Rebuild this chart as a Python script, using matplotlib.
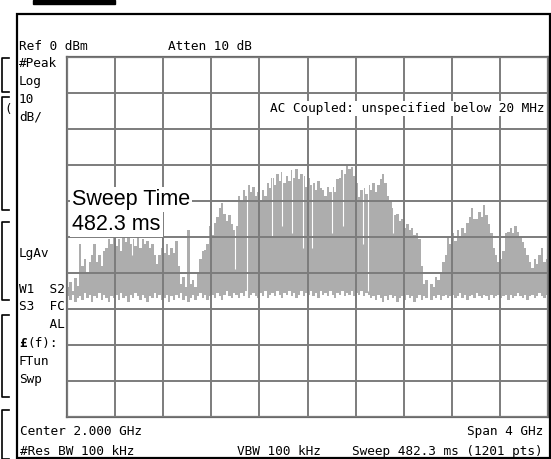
import numpy as np
import matplotlib
matplotlib.use("Agg")
import matplotlib.pyplot as plt
from matplotlib.patches import Rectangle

# sweep settings
center_ghz = 2.0
span_ghz = 4.0

# trace peak level per 20 MHz bin (dBm), 0 .. 4 GHz
peak_dbm = [
    -64, -62.5, -65, -61.5, -63.5,
    -52, -58, -56, -60, -57, -55, -52, -57, -55, -58, -54,
    -53, -50.5, -52, -50, -52.5, -50.5, -54, -50, -51.5, -49.5, -52, -50.5,
    -52.5, -50, -53, -50.5, -52, -51, -53, -52, -55, -57.5,
    -55, -53, -54.5, -52, -55, -53, -54.5, -51, -58,
    -63, -61, -64, -48, -63, -62, -64, -60,
    -56, -54, -53.5, -52,
    -47, -49.5, -46, -44.5, -42, -40.5, -43.5, -45.5, -44, -46.5, -48, -47,
    -38.5, -40, -37, -38.5, -35.5, -37.5, -36, -38.5, -37.5, -40,
    -37, -38.5, -35, -36.5, -33.5, -35.5, -32.5, -34.5, -32, -35, -33, -34.5,
    -31.5, -33.5, -31, -34, -32.5,
    -33, -36, -33.5, -35.5, -35, -37, -34.5, -36.5, -37, -38.5, -36, -37.5,
    -36, -37.5, -34,
    -33.5, -31.5, -32.5, -30, -31, -30.5, -33, -35, -39, -37,
    -36.5, -38, -35.5, -37, -35, -37.5, -35.5, -34, -32.5, -35, -38.5, -40,
    -42, -44, -43.5, -45.5, -45, -47.5, -46.5, -48, -47.5, -49.5, -49, -50.5, -58,
    -63, -62, -66, -63, -64, -61, -62, -60, -57, -55,
    -50, -52, -49, -51, -48, -50, -47.5, -49, -46, -44.5, -42, -45, -45, -43,
    -44.5, -41, -44, -46.5, -49, -53,
    -55, -57, -56, -54,
    -49, -48.5, -47.5, -49, -47, -48.5, -50, -51.5, -53, -55,
    -57, -58.5, -56, -57.5, -55, -53, -57, -56,
]

# noise floor under each bin (dBm)
floor_dbm = [
    -66.5, -67.5, -66, -68, -67, -66.5, -67.5, -65.5, -67, -66, -68, -66.5, -67, -65.5, -67.5, -66, -67, -68, -66.5, -67,
    -66, -67.5, -65.5, -67, -66.5, -68, -66, -67, -65.5, -66.5, -67.5, -66, -67, -68, -66.5, -67, -65.5, -67, -66, -67.5,
    -67, -66, -68, -66.5, -67.5, -66, -67, -65.5, -67.5, -66.5, -68, -67, -66, -67.5, -66.5, -65.5, -67, -66, -67.5, -66.5,
    -66, -67, -65.5, -66.5, -67.5, -66, -65, -66.5, -67, -65.5, -66, -67, -65.5, -66.5, -65, -67, -66, -65.5, -66.5, -67,
    -65.5, -66.5, -65, -67, -66, -65.5, -66.5, -65, -66, -67, -65.5, -66, -65, -66.5, -65.5, -67, -66, -65, -66.5, -65.5,
    -66, -65, -66.5, -65.5, -67, -65, -66, -65.5, -66.5, -65, -66, -67, -65.5, -66, -65, -66.5, -65.5, -66, -65, -66.5,
    -65.5, -66, -65, -66.5, -65.5, -66, -67, -66.5, -67.5, -66, -67, -68, -66.5, -67.5, -66, -67, -66.5, -68, -67, -66.5,
    -67.5, -66, -67, -66.5, -68, -67, -66, -67.5, -66.5, -67, -66, -67.5, -66.5, -67, -66, -67.5, -66.5, -66, -67, -66.5,
    -66, -67, -66.5, -65.5, -67, -66, -67.5, -66.5, -66, -67, -65.5, -66.5, -67, -66, -66.5, -67.5, -66, -67, -66.5, -66,
    -67, -66.5, -66, -67.5, -66, -67, -66.5, -65.5, -66.5, -67, -66, -67.5, -66.5, -66, -67, -66.5, -65.5, -66.5, -67, -66,
]

# single-point dropouts inside the bursts: frequency (GHz) and level (dBm)
dip_ghz = [0.333, 0.54, 1.397, 1.497, 1.705, 1.788, 1.871, 1.963, 2.037,
           2.204, 2.295, 2.461, 2.503, 2.711]
dip_dbm = [-52, -55, -59, -69, -50, -47, -49, -53, -53,
           -49, -47, -52, -65, -49]

W, H = 551, 459
mono = "DejaVu Sans Mono"
fs = 9.2

fig = plt.figure(figsize=(W / 100, H / 100), dpi=100)
fig.patch.set_facecolor("white")

# graticule area
ax = fig.add_axes([67 / W, 1 - 417 / H, 481 / W, 360 / H])
start = center_ghz - span_ghz / 2
edges = np.linspace(start, start + span_ghz, len(peak_dbm) + 1)
top = np.append(peak_dbm, peak_dbm[-1])
bot = np.append(floor_dbm, floor_dbm[-1])
ax.fill_between(edges, bot, top, step="post", color="#adadad", linewidth=0, zorder=1)
ax.vlines(dip_ghz, dip_dbm, 0, color="white", linewidth=0.8, zorder=1.5)

ax.set_xlim(start, start + span_ghz)
ax.set_ylim(-100, 0)
ax.set_xticks(np.linspace(start, start + span_ghz, 11))
ax.set_yticks(np.arange(-100, 1, 10))
ax.tick_params(length=0, labelbottom=False, labelleft=False)
ax.grid(True, color="#7c7c7c", linewidth=1.4)
ax.set_axisbelow(False)
for s in ax.spines.values():
    s.set_color("#6a6a6a")
    s.set_linewidth(1.6)

# screen overlay in pixel coordinates
ov = fig.add_axes([0, 0, 1, 1], facecolor="none")
ov.set_xlim(0, W)
ov.set_ylim(H, 0)
ov.axis("off")

ov.add_patch(Rectangle((17, 14), 533, 444, fill=False, ec="black", lw=1.6))
ov.add_patch(Rectangle((33, 0), 82, 4, color="black"))

# soft-key brackets on the left edge
for y0, y1 in [(58, 92), (97, 210), (222, 300), (315, 397), (410, 459)]:
    ov.plot([9, 1.5, 1.5, 9], [y0, y0, y1, y1], color="black", lw=1.2)
ov.text(4, 113, "(", fontsize=9, family=mono, va="baseline")


def label(x, y, s, ha="left", **kw):
    ov.text(x, y, s, family=mono, fontsize=fs, ha=ha, va="baseline", **kw)


label(19, 50, "Ref 0 dBm")
label(168, 50, "Atten 10 dB")
label(19, 67, "#Peak")
label(19, 85.5, "Log")
label(19, 103, "10")
label(19, 121, "dB/")
label(545, 112, "AC Coupled: unspecified below 20 MHz", ha="right",
      bbox=dict(facecolor="white", edgecolor="none", pad=1))
label(19, 257, "LgAv")
label(19, 293, "W1  S2")
label(19, 310, "S3  FC")
label(19, 328, "    AL")
label(19, 347, "£", weight="bold")
label(27, 347, "(f):")
label(19, 365, "FTun")
label(19, 383, "Swp")
label(20, 435, "Center 2.000 GHz")
label(543, 435, "Span 4 GHz", ha="right")
label(20, 455, "#Res BW 100 kHz")
label(237, 455, "VBW 100 kHz")
label(543, 455, "Sweep 482.3 ms (1201 pts)", ha="right")

big = "Liberation Sans"
ov.text(72, 205, "Sweep Time", family=big, fontsize=15.5, va="baseline",
        bbox=dict(facecolor="white", edgecolor="none", pad=1.5))
ov.text(72, 230, "482.3 ms", family=big, fontsize=15.5, va="baseline",
        bbox=dict(facecolor="white", edgecolor="none", pad=1.5))

fig.savefig("out.png", dpi=100)
